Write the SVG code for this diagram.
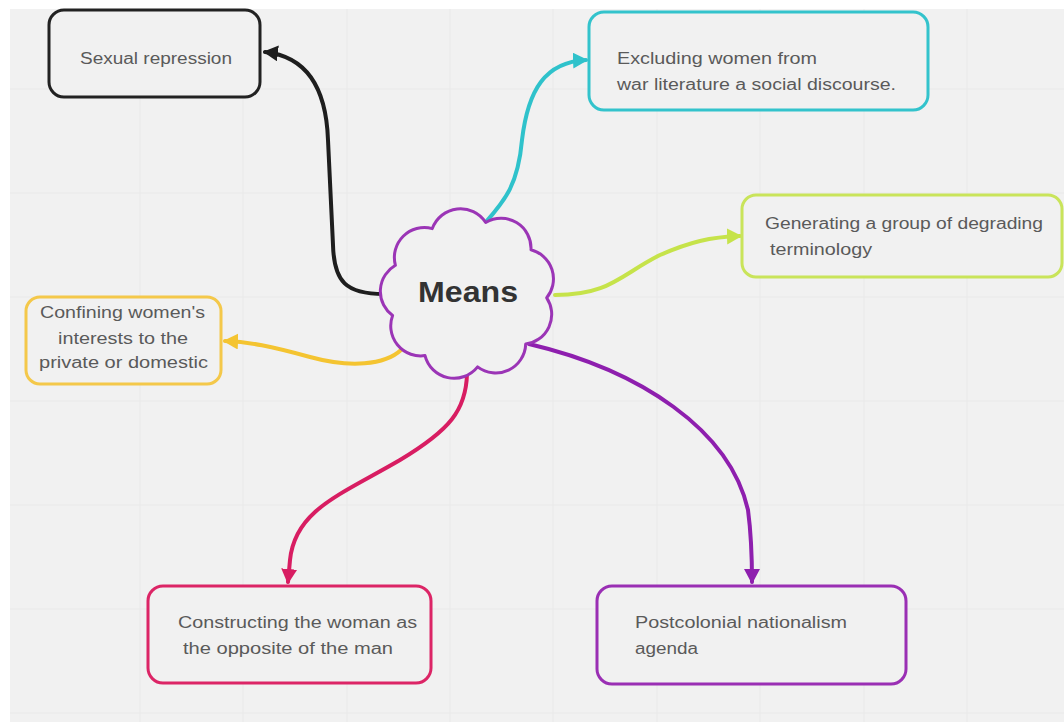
<svg xmlns="http://www.w3.org/2000/svg" width="1064" height="722" viewBox="0 0 1064 722">
<style>
.box{fill:#f1f1f1;stroke-width:3}
.lbl{font-family:"Liberation Sans",Arial,sans-serif;font-size:16px;fill:#5a5a5a}
.con{fill:none;stroke-width:4;stroke-linecap:round}
.grid{stroke:#e9e9e9;stroke-width:1}
</style>
<defs>
<marker id="aBlack" markerUnits="userSpaceOnUse" markerWidth="18" markerHeight="18" refX="13" refY="8" orient="auto"><path d="M0,0 L15,8 L0,16 z" fill="#1e1e1e"/></marker>
<marker id="aCyan" markerUnits="userSpaceOnUse" markerWidth="18" markerHeight="18" refX="13" refY="8" orient="auto"><path d="M0,0 L15,8 L0,16 z" fill="#2fc2cb"/></marker>
<marker id="aLime" markerUnits="userSpaceOnUse" markerWidth="18" markerHeight="18" refX="13" refY="8" orient="auto"><path d="M0,0 L15,8 L0,16 z" fill="#c6e34a"/></marker>
<marker id="aYellow" markerUnits="userSpaceOnUse" markerWidth="18" markerHeight="18" refX="13" refY="8" orient="auto"><path d="M0,0 L15,8 L0,16 z" fill="#f4c431"/></marker>
<marker id="aPink" markerUnits="userSpaceOnUse" markerWidth="18" markerHeight="18" refX="13" refY="8" orient="auto"><path d="M0,0 L15,8 L0,16 z" fill="#d81d62"/></marker>
<marker id="aPurple" markerUnits="userSpaceOnUse" markerWidth="18" markerHeight="18" refX="13" refY="8" orient="auto"><path d="M0,0 L15,8 L0,16 z" fill="#8e1fae"/></marker>
</defs>
<rect x="0" y="0" width="1064" height="722" fill="#ffffff"/>
<rect x="10" y="9" width="1054" height="713" fill="#f1f1f1"/>
<g id="grid">
<line class="grid" x1="140" y1="9" x2="140" y2="722"/>
<line class="grid" x1="243" y1="9" x2="243" y2="722"/>
<line class="grid" x1="347" y1="9" x2="347" y2="722"/>
<line class="grid" x1="450" y1="9" x2="450" y2="722"/>
<line class="grid" x1="553" y1="9" x2="553" y2="722"/>
<line class="grid" x1="657" y1="9" x2="657" y2="722"/>
<line class="grid" x1="760" y1="9" x2="760" y2="722"/>
<line class="grid" x1="864" y1="9" x2="864" y2="722"/>
<line class="grid" x1="967" y1="9" x2="967" y2="722"/>
<line class="grid" x1="10" y1="89" x2="1064" y2="89"/>
<line class="grid" x1="10" y1="193" x2="1064" y2="193"/>
<line class="grid" x1="10" y1="297" x2="1064" y2="297"/>
<line class="grid" x1="10" y1="401" x2="1064" y2="401"/>
<line class="grid" x1="10" y1="505" x2="1064" y2="505"/>
<line class="grid" x1="10" y1="609" x2="1064" y2="609"/>
<line class="grid" x1="10" y1="713" x2="1064" y2="713"/>
</g>
<g id="connectors">
<path class="con" stroke="#1e1e1e" marker-end="url(#aBlack)" d="M384,294 C346,294 334,282 333,245 L328,140 C326,82 302,56 265,52"/>
<path class="con" stroke="#2fc2cb" marker-end="url(#aCyan)" d="M486,222 C505,200 518,185 522,140 C528,90 545,62 586,60"/>
<path class="con" stroke="#c6e34a" marker-end="url(#aLime)" d="M555,295 C610,295 620,275 660,255 C690,242 710,237 740,236"/>
<path class="con" stroke="#f4c431" marker-end="url(#aYellow)" d="M401,350 C385,365 350,368 310,357 C270,346 250,342 225,341"/>
<path class="con" stroke="#d81d62" marker-end="url(#aPink)" d="M467,374 C466,410 450,430 400,460 C340,495 295,510 290,560 L288,582"/>
<path class="con" stroke="#8e1fae" marker-end="url(#aPurple)" d="M529,344 C640,370 730,430 748,510 C752,540 752,560 752,582"/>
</g>
<g id="node-sexual">
<rect class="box" x="49" y="10" width="211" height="87" rx="15" stroke="#222222"/>
<text class="lbl" x="80" y="64" textLength="152" lengthAdjust="spacingAndGlyphs">Sexual repression</text>
</g>
<g id="node-excluding">
<rect class="box" x="589" y="12" width="339" height="98" rx="15" stroke="#33c3cc"/>
<text class="lbl" x="617" y="64" textLength="200" lengthAdjust="spacingAndGlyphs">Excluding women from</text>
<text class="lbl" x="617" y="90" textLength="279" lengthAdjust="spacingAndGlyphs">war literature a social discourse.</text>
</g>
<g id="node-generating">
<rect class="box" x="742" y="195" width="320" height="82" rx="14" stroke="#c9e45a"/>
<text class="lbl" x="765" y="229" textLength="278" lengthAdjust="spacingAndGlyphs">Generating a group of degrading</text>
<text class="lbl" x="770" y="255" textLength="102" lengthAdjust="spacingAndGlyphs">terminology</text>
</g>
<g id="node-confining">
<rect class="box" x="26" y="297" width="195" height="87" rx="14" stroke="#f4c84a"/>
<text class="lbl" x="40" y="318" textLength="165" lengthAdjust="spacingAndGlyphs">Confining women's</text>
<text class="lbl" x="58" y="344" textLength="130" lengthAdjust="spacingAndGlyphs">interests to the</text>
<text class="lbl" x="39" y="368" textLength="169" lengthAdjust="spacingAndGlyphs">private or domestic</text>
</g>
<g id="node-constructing">
<rect class="box" x="148" y="586" width="283" height="97" rx="15" stroke="#dc2566"/>
<text class="lbl" x="178" y="628" textLength="239" lengthAdjust="spacingAndGlyphs">Constructing the woman as</text>
<text class="lbl" x="183" y="654" textLength="210" lengthAdjust="spacingAndGlyphs">the opposite of the man</text>
</g>
<g id="node-postcolonial">
<rect class="box" x="597" y="586" width="309" height="98" rx="15" stroke="#9a2fb4"/>
<text class="lbl" x="635" y="628" textLength="212" lengthAdjust="spacingAndGlyphs">Postcolonial nationalism</text>
<text class="lbl" x="635" y="654" textLength="63" lengthAdjust="spacingAndGlyphs">agenda</text>
</g>
<g id="node-means">
<path fill="#f1f1f1" stroke="#9b35b6" stroke-width="3" stroke-linejoin="round" d="M531,249.8 A30,30 0 0 0 485.7,222.5 A30,30 0 0 0 432.3,228.6 A30,30 0 0 0 395.4,265.3 A30,30 0 0 0 392.6,315.5 A30,30 0 0 0 425,355.6 A30,30 0 0 0 477.6,366.9 A30,30 0 0 0 525.7,344.1 A30,30 0 0 0 546.7,297.8 A30,30 0 0 0 531,249.8 Z"/>
<text x="418" y="302" font-family="'Liberation Sans',Arial,sans-serif" font-size="30" font-weight="bold" fill="#333333" textLength="100" lengthAdjust="spacingAndGlyphs">Means</text>
</g>
</svg>
